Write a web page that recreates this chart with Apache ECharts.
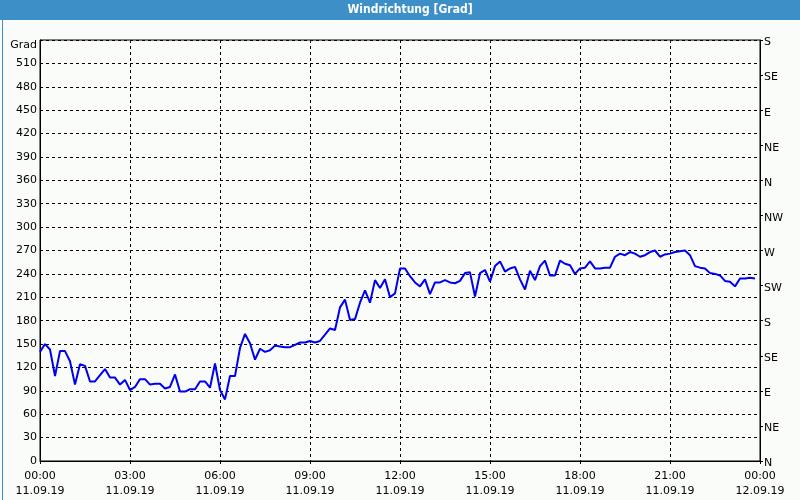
<!DOCTYPE html>
<html>
<head>
<meta charset="utf-8">
<script src="https://cdn.jsdelivr.net/npm/echarts@6/dist/echarts.min.js"></script>
<style>
html,body{margin:0;padding:0;background:#fafcfa;}
#chart{width:800px;height:500px;}
</style>
</head>
<body>
<div id="chart"></div>
<script>
// ---- data ----
const chartTitle = 'Windrichtung [Grad]';
const axisUnit = 'Grad';
const startMinute = 0;      // 11.09.19 00:00
const stepMinutes = 10;     // one sample every 10 minutes
const directions = [
  140,150,143,109,141,141,128,98,124,122,
  102,102,110,118,107,107,98,104,91,95,
  105,105,98,99,99,93,95,111,89,89,
  92,92,102,102,94,125,91,79,109,109,
  145,163,151,130,144,140,142,148,147,146,
  146,149,152,152,154,152,154,162,170,168,
  197,207,181,182,203,219,203,232,222,233,
  210,215,247,247,237,229,224,233,214,229,
  229,232,229,228,231,241,242,211,241,245,
  230,250,256,243,247,249,233,220,244,232,
  250,257,238,238,257,253,251,240,247,248,
  256,247,247,248,248,262,266,264,268,266,
  262,264,268,270,262,265,266,268,269,270,
  264,250,248,247,241,240,238,231,230,224,
  234,234,235,234
];
const xTickTimes = ['00:00','03:00','06:00','09:00','12:00','15:00','18:00','21:00','00:00'];
const xTickDates = ['11.09.19','11.09.19','11.09.19','11.09.19','11.09.19','11.09.19','11.09.19','11.09.19','12.09.19'];
const leftTicks = [0,30,60,90,120,150,180,210,240,270,300,330,360,390,420,450,480,510,540];
const compassLabels = ['N','NE','E','SE','S','SW','W','NW','N','NE','E','SE','S'];

// ---- chart ----
const font = "'DejaVu Sans', sans-serif";
const seriesData = directions.map((v, i) => [startMinute + i * stepMinutes, v]);
const chart = echarts.init(document.getElementById('chart'), null, {renderer: 'canvas'});
const dashed = {show: true, lineStyle: {color: '#000', type: [3, 3], width: 1}};

chart.setOption({
  backgroundColor: '#fafcfa',
  animation: false,
  graphic: [
    {type: 'rect', left: 0, top: 0, shape: {width: 800, height: 20}, style: {fill: '#3c8fc7'}, z: -1},
    {type: 'rect', left: 0, top: 0, shape: {width: 799, height: 499}, style: {fill: 'none', stroke: '#3c8fc7', lineWidth: 1}, z: -1},
    {type: 'text', x: 410, y: 10, style: {text: chartTitle, fill: '#fff', align: 'center', verticalAlign: 'middle', font: "bold 12px 'DejaVu Sans Condensed', 'DejaVu Sans', sans-serif"}}
  ],
  grid: {left: 40, right: 40, top: 40, bottom: 39, show: true, borderColor: '#000', borderWidth: 1, backgroundColor: 'transparent'},
  xAxis: {
    type: 'value', min: 0, max: 1440, interval: 180,
    axisLine: {lineStyle: {color: '#000'}},
    axisTick: {show: true, length: 3, lineStyle: {color: '#000'}},
    splitLine: dashed,
    axisLabel: {
      color: '#000', fontFamily: font, fontSize: 11, lineHeight: 15, margin: 8,
      showMinLabel: true, showMaxLabel: true,
      formatter: v => { const k = Math.round(v / 180); return xTickTimes[k] + '\n' + xTickDates[k]; }
    }
  },
  yAxis: [
    {
      type: 'value', min: leftTicks[0], max: leftTicks[leftTicks.length - 1], interval: 30, position: 'left',
      axisLine: {show: true, lineStyle: {color: '#000'}},
      axisTick: {show: false},
      splitLine: dashed,
      axisLabel: {
        color: '#000', fontFamily: font, fontSize: 11, margin: 3,
        formatter: v => v === 540 ? '{g|' + axisUnit + '}' : String(v),
        rich: {g: {color: '#000', fontFamily: font, fontSize: 11, padding: [10, 0, 0, 0]}}
      }
    },
    {
      type: 'value', min: 0, max: 540, interval: 45, position: 'right',
      axisLine: {show: true, lineStyle: {color: '#000'}},
      axisTick: {show: true, length: 3, inside: false, lineStyle: {color: '#000'}},
      splitLine: {show: false},
      axisLabel: {
        color: '#000', fontFamily: font, fontSize: 11, margin: 4,
        formatter: v => '{c|' + compassLabels[Math.round(v / 45)] + '}',
        rich: {c: {color: '#000', fontFamily: font, fontSize: 11, padding: [5, 0, 0, 0]}}
      }
    }
  ],
  series: [{
    type: 'line', yAxisIndex: 0, data: seriesData,
    showSymbol: false, symbol: 'none',
    lineStyle: {color: '#0000ee', width: 2},
    itemStyle: {color: '#0000ee'}
  }]
});
</script>
</body>
</html>
